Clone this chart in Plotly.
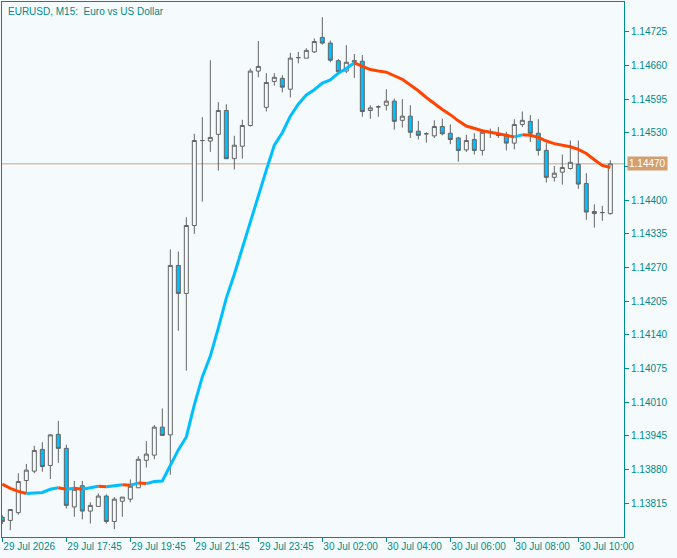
import plotly.graph_objects as go

# EURUSD M15, bar 0 = 29 Jul 15:45 (one bar per 15 minutes, 00:00 bar missing)
bar = list(range(77))

open_ = [1.13788, 1.13782, 1.13797, 1.13859, 1.13877, 1.13919, 1.13888, 1.13948, 1.13921, 1.13808,
         1.13849, 1.13800, 1.13809, 1.13829, 1.13780, 1.13819, 1.13823, 1.13845, 1.13898, 1.13908,
         1.13962, 1.13947, 1.14274, 1.14220, 1.14351, 1.14515, 1.14514, 1.14527, 1.14573, 1.14480,
         1.14504, 1.14544, 1.14649, 1.14579, 1.14629, 1.14635, 1.14614, 1.14675, 1.14674, 1.14686,
         1.14714, 1.14703, 1.14669, 1.14649, 1.14667, 1.14668, 1.14573, 1.14580, 1.14583, 1.14591,
         1.14554, 1.14562, 1.14533, 1.14528, 1.14524, 1.14542, 1.14529, 1.14520, 1.14497, 1.14517,
         1.14496, 1.14530, 1.14525, 1.14525, 1.14510, 1.14546, 1.14552, 1.14529, 1.14496, 1.14444,
         1.14454, 1.14461, 1.14469, 1.14432, 1.14378, 1.14376, 1.14374]

high = [1.13792, 1.13803, 1.13873, 1.13891, 1.13926, 1.13933, 1.13949, 1.13974, 1.13928, 1.13858,
        1.13858, 1.13817, 1.13834, 1.13832, 1.13827, 1.13827, 1.13861, 1.13906, 1.13935, 1.13966,
        1.13998, 1.14305, 1.14301, 1.14367, 1.14528, 1.14560, 1.14670, 1.14589, 1.14585, 1.14524,
        1.14555, 1.14654, 1.14707, 1.14645, 1.14645, 1.14641, 1.14684, 1.14686, 1.14693, 1.14712,
        1.14753, 1.14708, 1.14672, 1.14699, 1.14682, 1.14680, 1.14583, 1.14583, 1.14614, 1.14596,
        1.14595, 1.14583, 1.14553, 1.14531, 1.14554, 1.14557, 1.14546, 1.14522, 1.14526, 1.14529,
        1.14537, 1.14538, 1.14541, 1.14532, 1.14556, 1.14571, 1.14564, 1.14556, 1.14510, 1.14466,
        1.14488, 1.14515, 1.14515, 1.14452, 1.14392, 1.14389, 1.14477]

low = [1.13775, 1.13763, 1.13793, 1.13835, 1.13873, 1.13876, 1.13862, 1.13893, 1.13805, 1.13789,
       1.13784, 1.13776, 1.13809, 1.13776, 1.13765, 1.13789, 1.13817, 1.13845, 1.13884, 1.13900,
       1.13946, 1.13870, 1.14148, 1.14071, 1.14335, 1.14397, 1.14493, 1.14457, 1.14479, 1.14459,
       1.14480, 1.14542, 1.14637, 1.14571, 1.14621, 1.14608, 1.14598, 1.14664, 1.14674, 1.14684,
       1.14700, 1.14666, 1.14645, 1.14645, 1.14636, 1.14561, 1.14557, 1.14561, 1.14573, 1.14536,
       1.14540, 1.14520, 1.14517, 1.14511, 1.14520, 1.14525, 1.14508, 1.14474, 1.14493, 1.14488,
       1.14486, 1.14520, 1.14520, 1.14496, 1.14498, 1.14541, 1.14512, 1.14486, 1.14434, 1.14436,
       1.14430, 1.14459, 1.14422, 1.14362, 1.14347, 1.14360, 1.14372]

close = [1.13780, 1.13803, 1.13857, 1.13879, 1.13917, 1.13886, 1.13947, 1.13921, 1.13811, 1.13842,
         1.13800, 1.13811, 1.13829, 1.13780, 1.13823, 1.13827, 1.13848, 1.13900, 1.13910, 1.13962,
         1.13946, 1.14274, 1.14220, 1.14351, 1.14515, 1.14515, 1.14521, 1.14573, 1.14480, 1.14506,
         1.14544, 1.14649, 1.14658, 1.14627, 1.14637, 1.14618, 1.14674, 1.14675, 1.14689, 1.14706,
         1.14703, 1.14670, 1.14648, 1.14666, 1.14669, 1.14571, 1.14578, 1.14580, 1.14591, 1.14552,
         1.14562, 1.14531, 1.14525, 1.14528, 1.14542, 1.14528, 1.14517, 1.14496, 1.14515, 1.14496,
         1.14531, 1.14531, 1.14525, 1.14510, 1.14546, 1.14554, 1.14529, 1.14496, 1.14444, 1.14452,
         1.14463, 1.14473, 1.14431, 1.14377, 1.14374, 1.14376, 1.14470]

# colour-changing moving average
ma = [1.13852, 1.13844, 1.13838, 1.13834, 1.13835, 1.13836, 1.13842, 1.13845, 1.13842, 1.13844,
      1.13842, 1.13845, 1.13848, 1.13847, 1.13849, 1.13851, 1.13850, 1.13854, 1.13853, 1.13857,
      1.13858, 1.13889, 1.13918, 1.13943, 1.14005, 1.14059, 1.14099, 1.14153, 1.14211, 1.14257,
      1.14308, 1.14358, 1.14410, 1.14458, 1.14506, 1.14530, 1.14562, 1.14585, 1.14603, 1.14613,
      1.14626, 1.14632, 1.14645, 1.14654, 1.14665, 1.14658, 1.14652, 1.14649, 1.14647, 1.14640,
      1.14633, 1.14622, 1.14611, 1.14598, 1.14586, 1.14575, 1.14565, 1.14553, 1.14543, 1.14538,
      1.14534, 1.14531, 1.14528, 1.14525, 1.14522, 1.14526, 1.14525, 1.14521, 1.14514, 1.14509,
      1.14506, 1.14503, 1.14498, 1.14490, 1.14478, 1.14467, 1.14463]

time_ticks = [0, 8, 16, 24, 32, 40, 48, 56, 64, 72]
time_labels = ['29 Jul 2026', '29 Jul 17:45', '29 Jul 19:45', '29 Jul 21:45', '29 Jul 23:45',
               '30 Jul 02:00', '30 Jul 04:00', '30 Jul 06:00', '30 Jul 08:00', '30 Jul 10:00']
price_ticks = [1.13815, 1.13880, 1.13945, 1.14010, 1.14075, 1.14140, 1.14205, 1.14270,
               1.14335, 1.14400, 1.14465, 1.14530, 1.14595, 1.14660, 1.14725]
last_price = 1.14470

BG = '#F5FAFC'
TEAL = '#008B8B'
GRAY = '#646464'
BLUE = '#00BFFF'
RED = '#FF4500'
FONT = 'Liberation Sans, Arial, sans-serif'

# split the MA into rising (blue) and falling (red) runs
up_x, up_y, dn_x, dn_y = [], [], [], []
prev = None
for i in range(1, len(ma)):
    rising = ma[i] >= ma[i - 1]
    xs, ys = (up_x, up_y) if rising else (dn_x, dn_y)
    if prev != rising:
        if xs:
            xs.append(None); ys.append(None)
        xs.append(bar[i - 1]); ys.append(ma[i - 1])
    xs.append(bar[i]); ys.append(ma[i])
    prev = rising

fig = go.Figure()
fig.add_trace(go.Candlestick(
    x=bar, open=open_, high=high, low=low, close=close,
    increasing=dict(fillcolor=BG, line=dict(color=GRAY, width=1)),
    decreasing=dict(fillcolor=BLUE, line=dict(color=GRAY, width=1)),
    whiskerwidth=0, hoverinfo='skip', showlegend=False))
fig.add_trace(go.Scatter(x=up_x, y=up_y, mode='lines', line=dict(color=BLUE, width=3),
                         hoverinfo='skip', showlegend=False))
fig.add_trace(go.Scatter(x=dn_x, y=dn_y, mode='lines', line=dict(color=RED, width=3),
                         hoverinfo='skip', showlegend=False))

# current price line and label
fig.add_shape(type='line', xref='paper', x0=0, x1=1, yref='y', y0=last_price, y1=last_price,
              line=dict(color='#CFA37F', width=1), layer='below')
fig.add_annotation(xref='paper', x=1, xanchor='left', xshift=3, yref='y', y=last_price,
                   text=f'{last_price:.5f}', showarrow=False, bgcolor='#D39F70', borderpad=1,
                   font=dict(family=FONT, size=10, color='white'))

fig.add_annotation(xref='paper', x=0, xanchor='left', xshift=4, yref='paper', y=1,
                   yanchor='top', yshift=-2, text='EURUSD, M15:  Euro vs US Dollar',
                   showarrow=False, font=dict(family=FONT, size=10, color=TEAL))

fig.update_xaxes(range=[-0.04, 77.71], tickvals=time_ticks, ticktext=time_labels,
                 tickangle=0, ticks='outside', ticklen=4, tickcolor=TEAL,
                 ticklabelposition='outside right',
                 showline=True, linecolor=TEAL, linewidth=1, mirror=True,
                 showgrid=False, zeroline=False, rangeslider_visible=False,
                 tickfont=dict(family=FONT, size=10, color=TEAL))
fig.update_yaxes(range=[1.13750, 1.147823], side='right', tickvals=price_ticks,
                 ticktext=[f'{p:.5f}' for p in price_ticks],
                 ticks='outside', ticklen=4, tickcolor=TEAL,
                 showline=True, linecolor=TEAL, linewidth=1, mirror=True,
                 showgrid=False, zeroline=False,
                 tickfont=dict(family=FONT, size=10, color=TEAL))
fig.update_layout(
    width=677, height=558,
    margin=dict(l=2, r=53, t=2, b=21),
    plot_bgcolor=BG, paper_bgcolor=BG,
    boxgap=0.5, boxgroupgap=0,
    showlegend=False,
)
fig.write_html('out.html', config={'displayModeBar': False},
               post_script="document.body.style.margin='0';")
